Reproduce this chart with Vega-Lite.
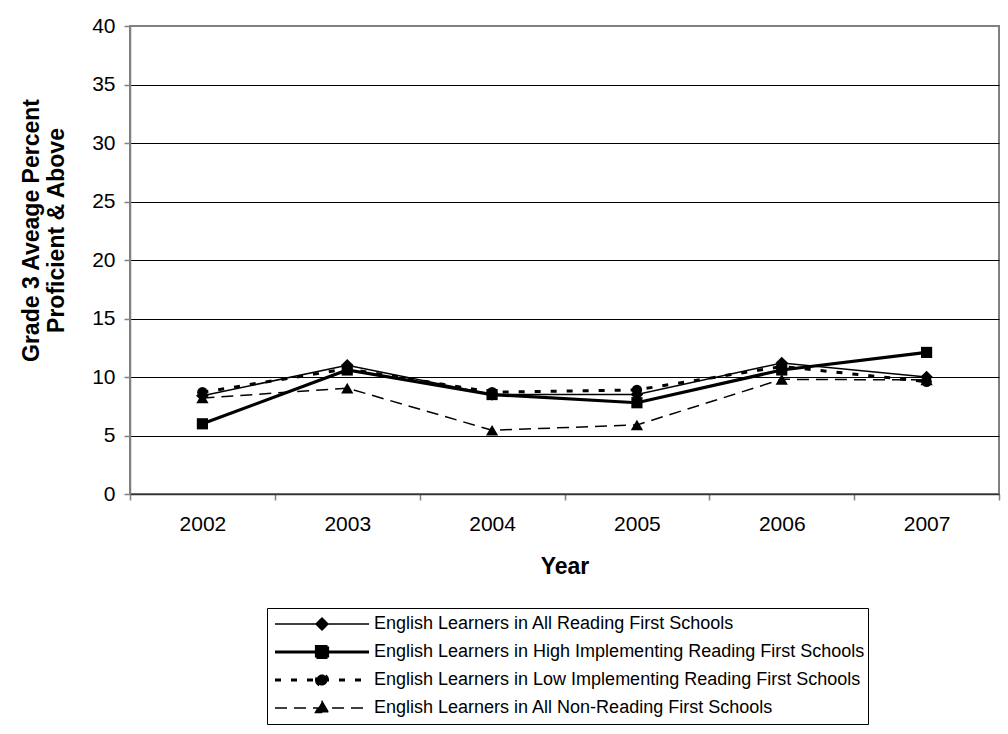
{
  "$schema": "https://vega.github.io/schema/vega-lite/v6.json",
  "width": 869,
  "height": 468,
  "autosize": {"type": "none"},
  "padding": {"left": 130, "top": 26, "right": 9, "bottom": 240},
  "background": "white",
  "config": {
    "font": "Liberation Sans",
    "view": {"stroke": "#808080", "strokeWidth": 2},
    "axis": {"labelFont": "Liberation Sans", "titleFont": "Liberation Sans", "labelColor": "black", "titleColor": "black"}
  },
  "data": {
    "values": [
      {"year": "2002", "series": "English Learners in All Reading First Schools", "value": 8.4},
      {"year": "2003", "series": "English Learners in All Reading First Schools", "value": 11.0},
      {"year": "2004", "series": "English Learners in All Reading First Schools", "value": 8.5},
      {"year": "2005", "series": "English Learners in All Reading First Schools", "value": 8.5},
      {"year": "2006", "series": "English Learners in All Reading First Schools", "value": 11.2},
      {"year": "2007", "series": "English Learners in All Reading First Schools", "value": 10.0},
      {"year": "2002", "series": "English Learners in High Implementing Reading First Schools", "value": 6.0},
      {"year": "2003", "series": "English Learners in High Implementing Reading First Schools", "value": 10.6},
      {"year": "2004", "series": "English Learners in High Implementing Reading First Schools", "value": 8.5},
      {"year": "2005", "series": "English Learners in High Implementing Reading First Schools", "value": 7.8},
      {"year": "2006", "series": "English Learners in High Implementing Reading First Schools", "value": 10.6},
      {"year": "2007", "series": "English Learners in High Implementing Reading First Schools", "value": 12.1},
      {"year": "2002", "series": "English Learners in Low Implementing Reading First Schools", "value": 8.7},
      {"year": "2003", "series": "English Learners in Low Implementing Reading First Schools", "value": 10.7},
      {"year": "2004", "series": "English Learners in Low Implementing Reading First Schools", "value": 8.7},
      {"year": "2005", "series": "English Learners in Low Implementing Reading First Schools", "value": 8.9},
      {"year": "2006", "series": "English Learners in Low Implementing Reading First Schools", "value": 10.9},
      {"year": "2007", "series": "English Learners in Low Implementing Reading First Schools", "value": 9.6},
      {"year": "2002", "series": "English Learners in All Non-Reading First Schools", "value": 8.2},
      {"year": "2003", "series": "English Learners in All Non-Reading First Schools", "value": 9.05},
      {"year": "2004", "series": "English Learners in All Non-Reading First Schools", "value": 5.45},
      {"year": "2005", "series": "English Learners in All Non-Reading First Schools", "value": 5.9},
      {"year": "2006", "series": "English Learners in All Non-Reading First Schools", "value": 9.8},
      {"year": "2007", "series": "English Learners in All Non-Reading First Schools", "value": 9.75}
    ]
  },
  "encoding": {
    "x": {
      "field": "year", "type": "ordinal",
      "scale": {"paddingInner": 0, "paddingOuter": 0},
      "axis": {
        "title": "Year", "titleFontSize": 23, "titleFontWeight": "bold", "titlePadding": 21,
        "labelAngle": 0, "labelFontSize": 21, "labelPadding": 13,
        "tickBand": "extent", "tickSize": 6, "tickColor": "#808080", "tickWidth": 1.5,
        "domainColor": "#333333", "domainWidth": 1.5, "grid": false
      }
    },
    "y": {
      "field": "value", "type": "quantitative",
      "scale": {"domain": [0, 40], "nice": false},
      "axis": {
        "title": ["Grade 3 Aveage Percent", "Proficient & Above"],
        "titleFontSize": 23, "titleFontWeight": "bold", "titleLineHeight": 25, "titlePadding": 23,
        "titleY": 204,
        "values": [0, 5, 10, 15, 20, 25, 30, 35, 40],
        "labelFontSize": 21, "labelPadding": 9,
        "tickSize": 6, "tickColor": "#808080", "tickWidth": 1.5,
        "domainColor": "#808080", "domainWidth": 1.5,
        "grid": true,
        "gridColor": {"condition": {"test": "datum.value == 40", "value": "#808080"}, "value": "black"},
        "gridWidth": 1.2, "gridOpacity": 1
      }
    }
  },
  "layer": [
    {
      "transform": [{"filter": "datum.series == 'English Learners in All Non-Reading First Schools'"}],
      "mark": {"type": "line", "color": "black", "strokeWidth": 1.5, "strokeDash": [12, 7],
               "point": {"shape": "triangle-up", "filled": true, "color": "black", "opacity": 1, "size": 150}}
    },
    {
      "transform": [{"filter": "datum.series == 'English Learners in Low Implementing Reading First Schools'"}],
      "mark": {"type": "line", "color": "black", "strokeWidth": 3, "strokeDash": [6, 10],
               "point": {"shape": "circle", "filled": true, "color": "black", "opacity": 1, "size": 110}}
    },
    {
      "transform": [{"filter": "datum.series == 'English Learners in High Implementing Reading First Schools'"}],
      "mark": {"type": "line", "color": "black", "strokeWidth": 3.2,
               "point": {"shape": "square", "filled": true, "color": "black", "opacity": 1, "size": 125}}
    },
    {
      "transform": [{"filter": "datum.series == 'English Learners in All Reading First Schools'"}],
      "mark": {"type": "line", "color": "black", "strokeWidth": 1.5,
               "point": {"shape": "diamond", "filled": true, "color": "black", "opacity": 1, "size": 160}}
    },
    {
      "mark": {"type": "point", "filled": true, "fill": "black", "stroke": "black", "opacity": 1, "size": 0},
      "encoding": {
        "shape": {
          "field": "series", "type": "nominal",
          "scale": {
            "domain": [
              "English Learners in All Reading First Schools",
              "English Learners in High Implementing Reading First Schools",
              "English Learners in Low Implementing Reading First Schools",
              "English Learners in All Non-Reading First Schools"
            ],
            "range": [
              "M-0.94,0L0.94,0M0,-0.12L0.12,0L0,0.12L-0.12,0Z",
              "M-0.94,0L0.94,0M-0.11,-0.11L0.11,-0.11L0.11,0.11L-0.11,0.11Z",
              "M-0.94,0L0.94,0M-0.11,0A0.11,0.11,0,1,0,0.11,0A0.11,0.11,0,1,0,-0.11,0Z",
              "M-0.94,0L0.94,0M0,-0.13L0.13,0.09L-0.13,0.09Z"
            ]
          },
          "legend": {
            "title": null,
            "orient": "none",
            "legendX": 137,
            "legendY": 582,
            "strokeColor": "black",
            "fillColor": "white",
            "padding": 3,
            "symbolSize": 10000,
            "clipHeight": 26,
            "rowPadding": 2,
            "labelFont": "Liberation Sans",
            "labelFontSize": 18,
            "labelColor": "black",
            "labelOffset": 0,
            "labelLimit": 700
          }
        },
        "strokeDash": {
          "field": "series", "type": "nominal",
          "scale": {
            "domain": [
              "English Learners in All Reading First Schools",
              "English Learners in High Implementing Reading First Schools",
              "English Learners in Low Implementing Reading First Schools",
              "English Learners in All Non-Reading First Schools"
            ],
            "range": [[1, 0], [1, 0], [6, 10], [12, 7]]
          }
        },
        "strokeWidth": {
          "field": "series", "type": "nominal",
          "scale": {
            "type": "ordinal",
            "domain": [
              "English Learners in All Reading First Schools",
              "English Learners in High Implementing Reading First Schools",
              "English Learners in Low Implementing Reading First Schools",
              "English Learners in All Non-Reading First Schools"
            ],
            "range": [1.5, 3.2, 3, 1.5]
          }
        }
      }
    }
  ]
}
